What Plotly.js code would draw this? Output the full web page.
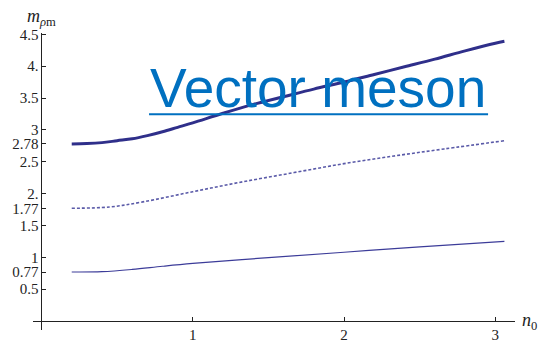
<!DOCTYPE html>
<html>
<head>
<meta charset="utf-8">
<script src="https://cdn.plot.ly/plotly-3.0.1.min.js"></script>
<style>
  html, body { margin: 0; padding: 0; background: #fff; }
  #chart { width: 541px; height: 340px; }
</style>
</head>
<body>
<div id="chart"></div>
<script>
// Density n0 at which the masses are evaluated
const n0Upper = [0.2, 0.3, 0.4, 0.5, 0.6, 0.7, 0.8, 0.9, 1.0, 1.2, 1.4, 1.6, 1.8, 2.0, 2.2, 2.4, 2.6, 2.8, 3.0, 3.06];
const n0Middle = [0.2, 0.45, 0.67, 1.0, 1.33, 1.67, 2.0, 2.33, 2.66, 3.06];
const n0Lower = [0.2, 0.4, 0.6, 0.8, 1.0, 1.5, 2.0, 2.5, 3.06];

// Vector meson masses for the three excitations
const massUpper = [2.78, 2.785, 2.80, 2.83, 2.86, 2.91, 2.97, 3.04, 3.11, 3.26, 3.40, 3.52, 3.64, 3.75, 3.87, 3.99, 4.11, 4.24, 4.36, 4.39];
const massMiddle = [1.77, 1.79, 1.87, 2.03, 2.185, 2.33, 2.47, 2.59, 2.70, 2.83];
const massLower = [0.77, 0.775, 0.81, 0.86, 0.905, 0.995, 1.08, 1.165, 1.25];

// Axis ticks
const yTickVals = [0.5, 0.77, 1, 1.5, 1.77, 2, 2.5, 2.78, 3, 3.5, 4, 4.5];
const yTickText = ["0.5", "0.77", "1", "1.5", "1.77", "2.", "2.5", "2.78", "3", "3.5", "4.", "4.5"];
const xTickVals = [1, 2, 3];
const xTickText = ["1", "2", "3"];

const xRange = [-0.056, 3.13];
const yRange = [-0.14, 4.52];

const serif = 'Liberation Serif, Times New Roman, serif';

const traces = [
  { x: n0Upper, y: massUpper, mode: 'lines', line: { color: '#2f2f8a', width: 3, shape: 'spline' }, hoverinfo: 'none' },
  { x: n0Middle, y: massMiddle, mode: 'lines', line: { color: '#5a5aa8', width: 1.6, dash: '3px,2px', shape: 'spline' }, hoverinfo: 'none' },
  { x: n0Lower, y: massLower, mode: 'lines', line: { color: '#3c3c99', width: 1.2, shape: 'spline' }, hoverinfo: 'none' }
];

// place each axis through the origin of the other one
const yAxisPos = (0 - xRange[0]) / (xRange[1] - xRange[0]);
const xAxisPos = (0 - yRange[0]) / (yRange[1] - yRange[0]);

const layout = {
  width: 541,
  height: 340,
  margin: { l: 33, r: 26, t: 33, b: 10 },
  paper_bgcolor: '#ffffff',
  plot_bgcolor: '#ffffff',
  showlegend: false,
  xaxis: {
    range: xRange,
    anchor: 'free',
    position: xAxisPos,
    showgrid: false,
    zeroline: false,
    showline: true,
    linecolor: '#222',
    linewidth: 1,
    ticks: 'inside',
    ticklen: 4,
    tickcolor: '#222',
    tickvals: xTickVals,
    ticktext: xTickText,
    tickfont: { family: serif, size: 15, color: '#222' }
  },
  yaxis: {
    range: yRange,
    anchor: 'free',
    position: yAxisPos,
    showgrid: false,
    zeroline: false,
    showline: true,
    linecolor: '#222',
    linewidth: 1,
    ticks: 'inside',
    ticklen: 4,
    tickcolor: '#222',
    tickvals: yTickVals,
    ticktext: yTickText,
    tickfont: { family: serif, size: 15, color: '#222' }
  },
  shapes: [
    // underline of the heading
    {
      type: 'line', xref: 'x', yref: 'y',
      x0: 0.711, x1: 2.952, y0: 3.247, y1: 3.247,
      line: { color: '#0070c0', width: 2 }
    }
  ],
  annotations: [
    {
      text: '<i>m</i><sub><i>ρ</i>m</sub>',
      xref: 'paper', yref: 'paper', x: yAxisPos, y: 1,
      xanchor: 'center', yanchor: 'bottom', yshift: 2,
      showarrow: false,
      font: { family: serif, size: 18, color: '#222' }
    },
    {
      text: '<i>n</i><sub>0</sub>',
      xref: 'paper', yref: 'paper', x: 1, y: xAxisPos,
      xanchor: 'left', yanchor: 'middle', xshift: 5,
      showarrow: false,
      font: { family: serif, size: 18, color: '#222' }
    },
    {
      text: 'Vector meson',
      xref: 'x', yref: 'y', x: 1.83, y: 3.66,
      xanchor: 'center', yanchor: 'middle',
      showarrow: false,
      font: { family: 'Liberation Sans, Arial, sans-serif', size: 55, color: '#0070c0' }
    }
  ]
};

Plotly.newPlot('chart', traces, layout, { staticPlot: true, displayModeBar: false });
</script>
</body>
</html>
